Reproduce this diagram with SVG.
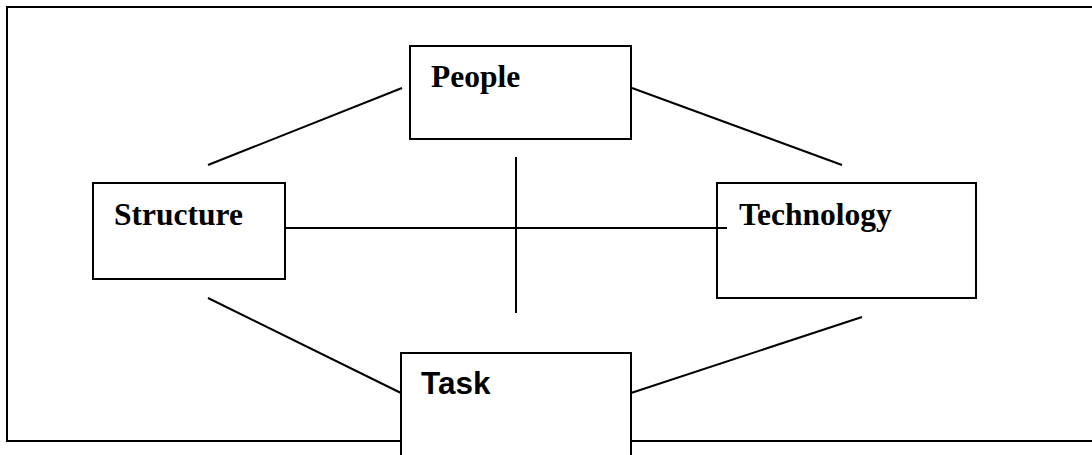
<svg xmlns="http://www.w3.org/2000/svg" width="1092" height="455" viewBox="0 0 1092 455">
<style>
.box{fill:#fff;stroke:#000;stroke-width:2}
.ln{stroke:#000;stroke-width:2;fill:none}
.serif{font-family:"Liberation Serif","Times New Roman",serif;font-weight:bold;font-size:31.5px;fill:#000}
.sans{font-family:"Liberation Sans",Arial,sans-serif;font-weight:bold;font-size:31.5px;fill:#000}
</style>
<rect width="1092" height="455" fill="#fff"/>
<rect id="frame" x="7" y="7" width="1100" height="434" class="ln"/>
<g id="connectors">
<line x1="208" y1="165" x2="402" y2="88" class="ln"/>
<line x1="632" y1="88" x2="842" y2="165" class="ln"/>
<line x1="208" y1="298" x2="401" y2="393" class="ln"/>
<line x1="631" y1="393" x2="862" y2="317" class="ln"/>
<line x1="285" y1="228" x2="727" y2="228" class="ln"/>
<line x1="516" y1="157" x2="516" y2="313" class="ln"/>
</g>
<g id="people">
<rect x="410" y="46" width="221" height="93" class="box"/>
<text x="431" y="87" class="serif">People</text>
</g>
<g id="structure">
<rect x="93" y="183" width="192" height="96" class="box"/>
<text x="114" y="225" class="serif">Structure</text>
</g>
<g id="technology">
<rect x="717" y="183" width="259" height="115" class="box" style="fill:none"/>
<text x="739" y="225" class="serif">Technology</text>
</g>
<g id="task">
<rect x="401" y="353" width="230" height="120" class="box"/>
<text x="421" y="394" class="sans">Task</text>
</g>
</svg>
